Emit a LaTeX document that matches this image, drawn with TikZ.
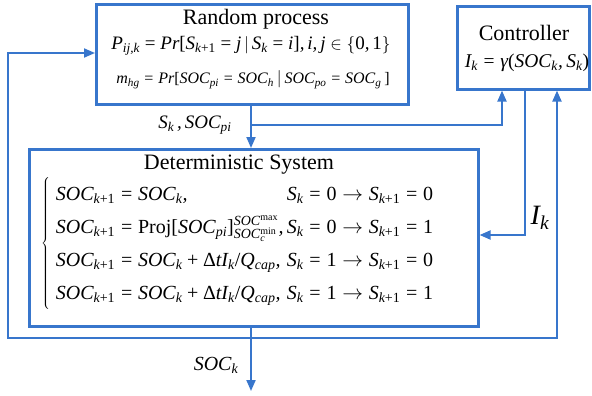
\documentclass[tikz,border=0pt]{standalone}
\usepackage[no-math]{fontspec}
\setmainfont{Liberation Serif}[NFSSFamily=libser]
% math letters and digits set in the Times-like text face
\DeclareSymbolFont{letters}{TU}{libser}{m}{it}
\DeclareSymbolFont{operators}{TU}{libser}{m}{n}
\DeclareMathAlphabet{\mathrm}{TU}{libser}{m}{n}
\mathcode`\,="612C
\mathcode`\/="002F
\newcommand{\gmm}{\mbox{\itshape γ}}
\newcommand{\Dlt}{\mbox{Δ}}
\usetikzlibrary{arrows.meta}
\definecolor{linkblue}{RGB}{56,118,204}
\tikzset{
  blk/.style={draw=linkblue, line width=2.6pt, inner sep=0pt},
  wire/.style={draw=linkblue, line width=2pt},
  arr/.style={wire, -{Triangle[length=11pt,width=9pt]}},
  lbl/.style={inner sep=0pt, text=black}
}
\begin{document}
\begin{tikzpicture}[x=1pt,y=-1pt]
\useasboundingbox (0,0) rectangle (592,396);

% blocks
\node[blk, minimum width=312pt, minimum height=100pt, anchor=north west] (rp) at (95,3) {};
\node[blk, minimum width=132pt, minimum height=83pt, anchor=north west] (ctrl) at (456,5) {};
\node[blk, minimum width=449pt, minimum height=177pt, anchor=north west] (det) at (28,148) {};

% random process contents
\node[lbl, font=\fontsize{22}{24}\selectfont] (rptitle) at (256,19) {Random process};
\node[lbl, font=\fontsize{19}{22}\selectfont] (rpeq1) at (251,46)
  {$P_{ij,k}=Pr[S_{k+1}=j\,|\,S_k=i],i,j\in\{0,1\}$};
\node[lbl, font=\fontsize{16}{18}\selectfont] (rpeq2) at (253,80)
  {$m_{hg}=Pr[SOC_{pi}=SOC_h\,|\,SOC_{po}=SOC_g\,]$};

% controller contents
\node[lbl, font=\fontsize{22}{24}\selectfont] (cttitle) at (524,33) {Controller};
\node[lbl, font=\fontsize{19.5}{22}\selectfont] (cteq) at (527,63)
  {$I_k=\gmm(SOC_k,S_k)$};

% deterministic system contents
\node[lbl, font=\fontsize{22}{24}\selectfont] (dttitle) at (239,165) {Deterministic System};
\node[lbl, font=\fontsize{20}{22}\selectfont, anchor=west] (dteq) at (41,243)
  {$\renewcommand{\arraystretch}{1.5}\left\{\;\begin{array}{@{}l@{}r@{}}
   SOC_{k+1}=SOC_k, & S_k=0\rightarrow S_{k+1}=0\\
   SOC_{k+1}=\mathrm{Proj}[SOC_{pi}]_{SOC_c^{\min}}^{SOC^{\max}}, & \,S_k=0\rightarrow S_{k+1}=1\\
   SOC_{k+1}=SOC_k+\Dlt tI_k/Q_{cap}, & \,S_k=1\rightarrow S_{k+1}=0\\
   SOC_{k+1}=SOC_k+\Dlt tI_k/Q_{cap}, & \,S_k=1\rightarrow S_{k+1}=1
   \end{array}\right.$};

% junction points of the wiring
\coordinate (split) at (251,125);
\coordinate (out) at (251,338);
\coordinate (outend) at (251,391);

% signal wiring
\draw[arr] (rp.south -| split) -- (det.north -| split);
\draw[arr] (split) -| (ctrl.south -| 502,0);
\draw[arr] (ctrl.south -| 525,0) |- (det.east |- 0,235);
\draw[arr] (det.south -| out) -- (outend);
\draw[arr] (out) -| (8,53) -- (rp.west |- 0,53);
\draw[arr] (out) -| (ctrl.south -| 557,0);

% signal labels
\node[lbl, font=\fontsize{19}{20}\selectfont] (lsplit) at (195,125) {$S_k\,,SOC_{pi}$};
\node[lbl, font=\fontsize{28}{30}\selectfont] (lik) at (540,218) {$I_k$};
\node[lbl, font=\fontsize{20}{22}\selectfont] (lout) at (216,365) {$SOC_k$};
\end{tikzpicture}
\end{document}
